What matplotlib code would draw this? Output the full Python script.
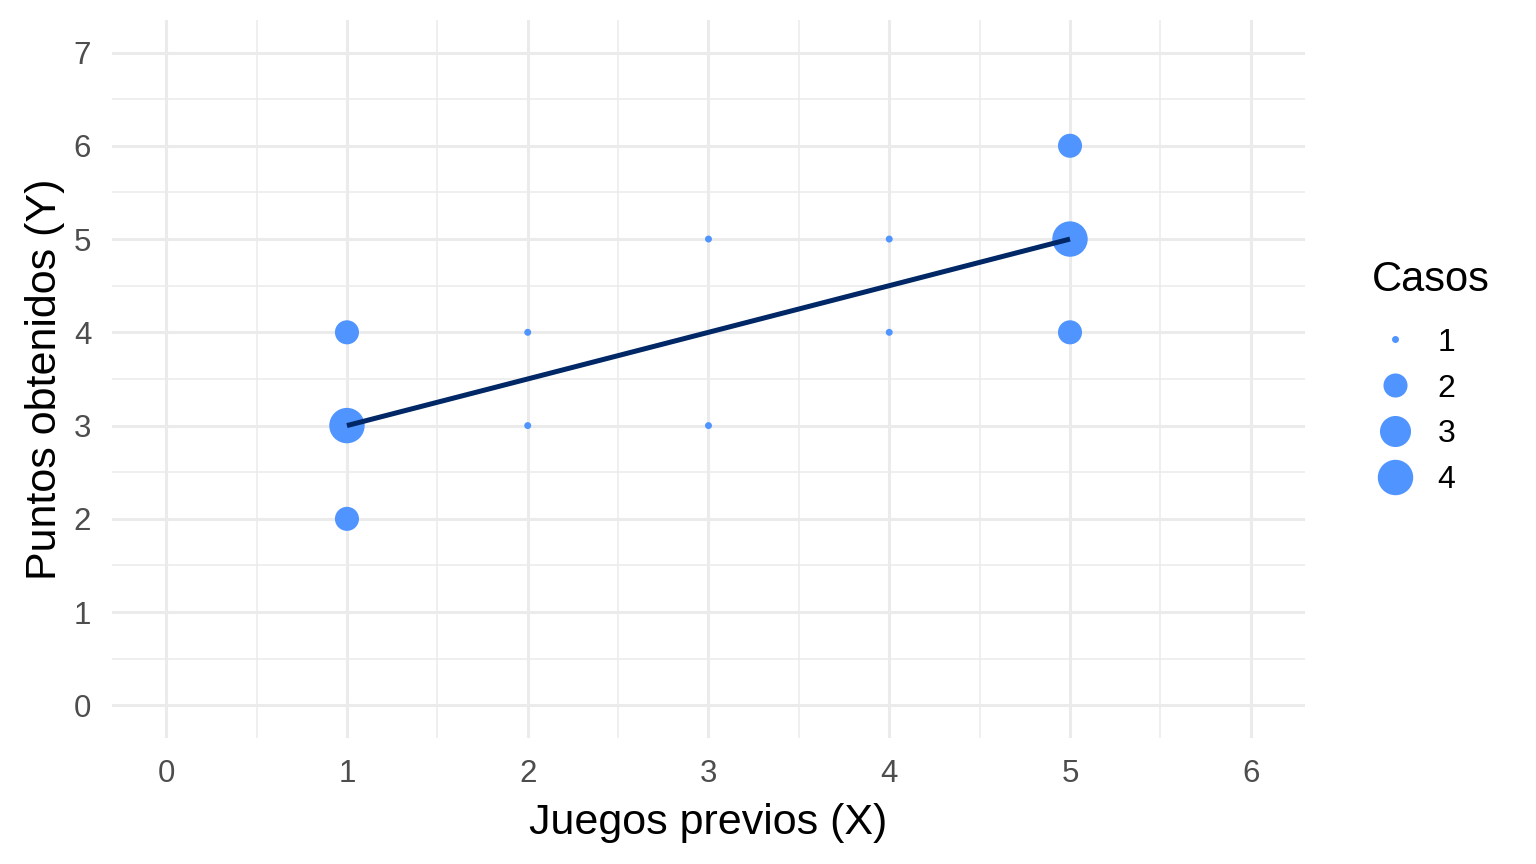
import numpy as np
import matplotlib.pyplot as plt
from matplotlib.lines import Line2D

plt.rcParams['font.family'] = ['Liberation Sans', 'DejaVu Sans']

# Data: (juegos previos, puntos obtenidos, casos)
juegos = [1, 1, 1, 2, 2, 3, 3, 4, 4, 5, 5, 5]
puntos = [2, 3, 4, 3, 4, 3, 5, 4, 5, 4, 5, 6]
casos = [2, 4, 2, 1, 1, 1, 1, 1, 1, 2, 4, 2]

# Fitted line
linea_x = [1, 5]
linea_y = [3, 5]

legend_levels = [1, 2, 3, 4]

point_color = '#4F94FF'
line_color = '#002766'
grid_color = '#EBEBEB'


def size_of(n):
    # area scale, roughly matching ggplot scale_size
    table = {1: 25, 2: 300, 3: 500, 4: 650}
    return table[n]


fig = plt.figure(figsize=(15.36, 8.64), dpi=100)
ax = fig.add_axes([0.0729, 0.1458, 0.7767, 0.8312])

ax.scatter(juegos, puntos, s=[size_of(c) for c in casos], color=point_color,
           edgecolors='none', zorder=3)
ax.plot(linea_x, linea_y, color=line_color, linewidth=3.6, zorder=4,
        solid_capstyle='butt')

ax.set_xlim(-0.3, 6.3)
ax.set_ylim(-0.35, 7.35)
ax.set_xticks(range(0, 7))
ax.set_yticks(range(0, 8))
ax.set_xticks(np.arange(0.5, 6.5, 1), minor=True)
ax.set_yticks(np.arange(0.5, 7.5, 1), minor=True)

ax.grid(which='major', color=grid_color, linewidth=2.2)
ax.grid(which='minor', color=grid_color, linewidth=1.1)
ax.set_axisbelow(True)
for sp in ax.spines.values():
    sp.set_visible(False)
ax.tick_params(which='both', length=0)
ax.tick_params(axis='both', labelsize=22.5, labelcolor='#4D4D4D', pad=15)

ax.set_xlabel('Juegos previos (X)', fontsize=31, color='black', labelpad=10)
ax.set_ylabel('Puntos obtenidos (Y)', fontsize=31, color='black', labelpad=6)

# legend: title placed separately to get the ggplot gap
fig.text(0.893, 1 - 280 / 864, 'Casos', fontsize=30, ha='left', va='center')
handles = [Line2D([], [], linestyle='none', marker='o', color=point_color,
                  markeredgecolor='none', markersize=np.sqrt(size_of(n)))
           for n in legend_levels]
leg = fig.legend(handles, [str(n) for n in legend_levels],
                 loc='center left', bbox_to_anchor=(0.884, 1 - 411.5 / 864),
                 frameon=False, fontsize=23,
                 labelspacing=0.5, handlelength=1.5, handletextpad=0.6,
                 borderaxespad=0)

fig.savefig('out.png', dpi=100)
